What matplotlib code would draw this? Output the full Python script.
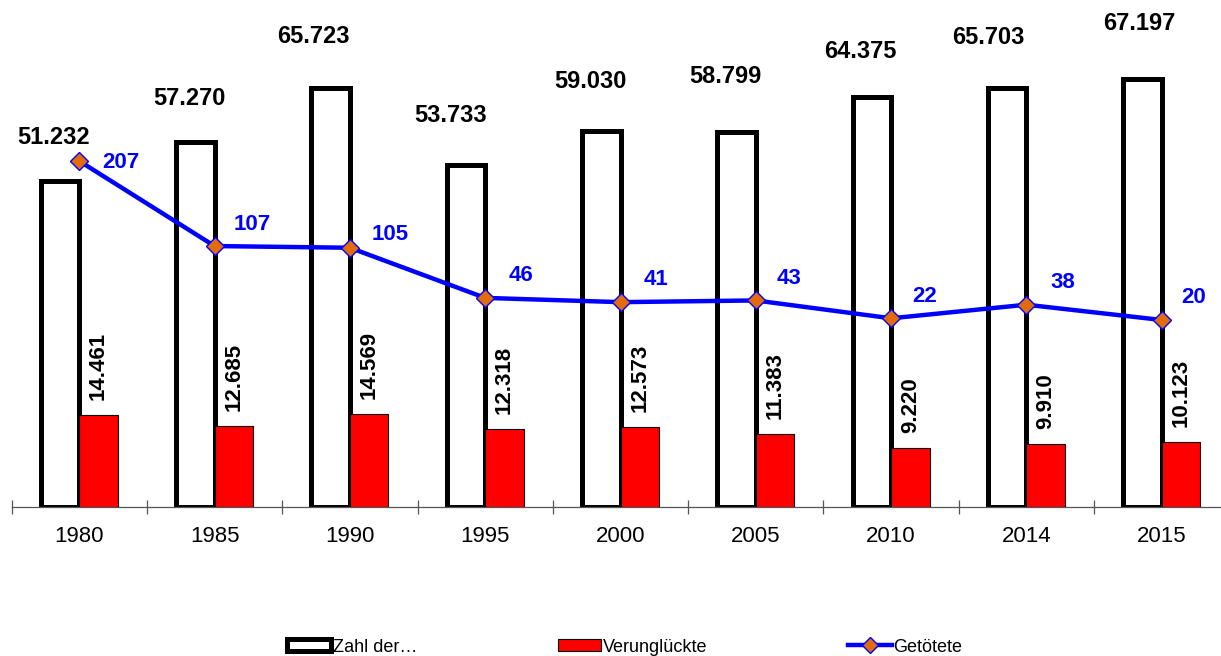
import matplotlib
matplotlib.use("Agg")
import matplotlib.pyplot as plt
import numpy as np

plt.rcParams['font.family'] = ['Liberation Sans', 'DejaVu Sans']

years = ["1980", "1985", "1990", "1995", "2000", "2005", "2010", "2014", "2015"]
zahl = [51232, 57270, 65723, 53733, 59030, 58799, 64375, 65703, 67197]
verungl = [14461, 12685, 14569, 12318, 12573, 11383, 9220, 9910, 10123]
getoetet = [207, 107, 105, 46, 41, 43, 22, 38, 20]
series_names = ["Zahl der…", "Verunglückte", "Getötete"]

# label offsets (pixels) - styling only
zahl_off = [(-6, 43), (-6, 44), (-17, 52), (-15, 49), (-11, 49), (-11, 56), (-12, 45), (-19, 51), (-3, 55)]
get_off = [(42, -1), (38, 22), (40, 13), (36, 22), (35, 23), (33, 22), (34, 22), (36, 22), (32, 22)]

def de_fmt(v):
    return f"{v:,}".replace(",", ".")

W, H = 1221, 656
fig = plt.figure(figsize=(W / 100, H / 100), dpi=100)
cat_w = 135.3
left_px = 79.3 - cat_w / 2
ax = fig.add_axes([left_px / W, (H - 507) / H, 9 * cat_w / W, 497 / H])

x = np.arange(len(years))
bw = 0.285
b1 = ax.bar(x - bw / 2, zahl, bw, facecolor='white', edgecolor='black', linewidth=3.6,
            label=series_names[0], zorder=2)
b2 = ax.bar(x + bw / 2, verungl, bw, facecolor='#FF0000', edgecolor='black', linewidth=0.8,
            label=series_names[1], zorder=2)
ax.set_ylim(0, 78000)
ax.set_xlim(-0.5, len(years) - 0.5)

for xi, v, (dx, dy) in zip(x, zahl, zahl_off):
    ax.annotate(de_fmt(v), (xi - bw / 2, v), xytext=(dx, dy), textcoords='offset pixels',
                ha='center', va='center', fontsize=17, fontweight='bold', color='black')
for xi, v in zip(x, verungl):
    ax.annotate(de_fmt(v), (xi + bw / 2, v), xytext=(0, 15), textcoords='offset pixels',
                ha='center', va='bottom', rotation=90, fontsize=16, fontweight='bold', color='black')

ax2 = ax.twinx()
ax2.set_ylim(-200, 384.7)
ln, = ax2.plot(x, getoetet, color='#0000FF', linewidth=3.2, marker='D', markersize=9,
               markerfacecolor='#E36C0A', markeredgecolor='#0000FF', markeredgewidth=1.0,
               label=series_names[2], zorder=3)
for xi, v, (dx, dy) in zip(x, getoetet, get_off):
    ax2.annotate(str(v), (xi, v), xytext=(dx, dy), textcoords='offset pixels',
                 ha='center', va='center', fontsize=16, fontweight='bold', color='#0000FF')

for a in (ax, ax2):
    for s in ('left', 'right', 'top'):
        a.spines[s].set_visible(False)
    a.set_yticks([])
ax2.spines['bottom'].set_visible(False)
ax.spines['bottom'].set_color('#555555')
ax.spines['bottom'].set_linewidth(0.9)

ax.set_xticks(x)
ax.set_xticklabels(years, fontsize=16)
ax.tick_params(axis='x', which='major', length=0, pad=14)
ax.set_xticks(np.arange(-0.5, len(years)), minor=True)
ax.tick_params(axis='x', which='minor', direction='inout', length=9.5, width=0.9, color='#555555')

fig.legend(handles=[b1, b2, ln], labels=series_names, loc='center',
           bbox_to_anchor=(625 / W, 1 - 647 / H), ncol=3, frameon=False,
           fontsize=13, handlelength=2.4, handletextpad=0.1, columnspacing=7.8,
           handleheight=0.6, markerscale=0.85)

fig.savefig("out.png", dpi=100)
